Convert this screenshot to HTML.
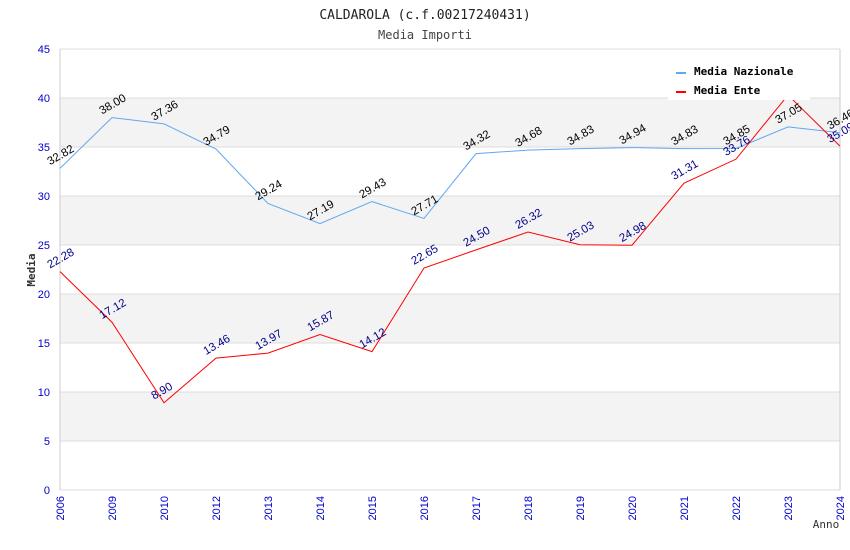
<!DOCTYPE html>
<html><head><meta charset="utf-8"><style>
body{margin:0;background:#fff;}
svg{display:block;font-family:"Liberation Sans",sans-serif;}
.mono{font-family:"DejaVu Sans Mono","Liberation Mono",monospace;}
</style></head><body>
<svg id="chart" width="850" height="550">
<text class="mono" x="425" y="19" text-anchor="middle" font-size="13" fill="#222">CALDAROLA (c.f.00217240431)</text>
<text class="mono" x="425" y="39" text-anchor="middle" font-size="12" fill="#444">Media Importi</text>
<g id="bands"></g><g id="grid"></g><g id="axes"></g><g id="series"></g><g id="labels"></g>
<g>
<rect x="668" y="58" width="142" height="42" fill="#fff"/>
<rect x="676" y="72" width="10" height="2" fill="#60a8f0"/>
<text class="mono" x="694" y="75" font-size="11" font-weight="bold" fill="#000">Media Nazionale</text>
<rect x="676" y="91" width="10" height="2" fill="#f00"/>
<text class="mono" x="694" y="94" font-size="11" font-weight="bold" fill="#000">Media Ente</text>
</g>
<text class="mono" x="35" y="270" font-size="11" font-weight="bold" fill="#333" text-anchor="middle" transform="rotate(-90 35 270)">Media</text>
<text class="mono" x="826" y="528" font-size="11" fill="#333" text-anchor="middle">Anno</text>
</svg>
<script>
const years=["2006","2009","2010","2012","2013","2014","2015","2016","2017","2018","2019","2020","2021","2022","2023","2024"];
const nazionale=[32.82,38.00,37.36,34.79,29.24,27.19,29.43,27.71,34.32,34.68,34.83,34.94,34.83,34.85,37.05,36.46];
const ente=[22.28,17.12,8.90,13.46,13.97,15.87,14.12,22.65,24.50,26.32,25.03,24.98,31.31,33.76,40.3,35.09];
const yTicks=[0,5,10,15,20,25,30,35,40,45];
const NS="http://www.w3.org/2000/svg";
const X0=60,X1=840,Y0=490,Y1=49,YMAX=45;
function xs(i){return X0+i*(X1-X0)/(years.length-1);}
function ys(v){return Y0-v*(Y0-Y1)/YMAX;}
function mk(tag,attrs,parent){const e=document.createElementNS(NS,tag);for(const k in attrs)e.setAttribute(k,attrs[k]);document.getElementById(parent).appendChild(e);return e;}
for(let i=0;i<yTicks.length-1;i++){
 if(i%2===1){const r=mk('rect',{x:X0,y:ys(yTicks[i+1]),width:X1-X0,height:ys(yTicks[i])-ys(yTicks[i+1]),fill:'#f3f3f3'},'bands');
 
 }
}
yTicks.forEach(t=>{
 const l=mk('line',{x1:X0,x2:X1,y1:ys(t),y2:ys(t),stroke:'#ddd'},'grid');
 
 
 const tx=mk('text',{x:X0-10,y:ys(t)+4,'text-anchor':'end','font-size':11,fill:'#00c'},'axes');
 tx.textContent=t;
 
 
});
mk('line',{x1:X0,x2:X0,y1:Y1,y2:Y0,stroke:'#ccc'},'axes');
mk('line',{x1:X1,x2:X1,y1:Y1,y2:Y0,stroke:'#ccc'},'axes');
years.forEach((yr,i)=>{
 const x=xs(i);
 const tx=mk('text',{x:x+4,y:Y0+6,'text-anchor':'end','font-size':11,fill:'#00c',transform:`rotate(-90 ${x+4} ${Y0+6})`},'axes');
 tx.textContent=yr;
 
 
});
function series(vals,color,name,lblColor){
 const p=mk('polyline',{points:vals.map((v,i)=>xs(i)+','+ys(v)).join(' '),fill:'none',stroke:color,'stroke-width':1},'series');
 
 
 vals.forEach((v,i)=>{
  const x=xs(i)-10,y=ys(v)-3;
  const t=mk('text',{x:x,y:y,'font-size':11.5,fill:lblColor,transform:`rotate(-30 ${x} ${y})`},'labels');
  t.textContent=v.toFixed(2);
  
  
 });
}
series(nazionale,'#60a8f0','line-nazionale','#000');
series(ente,'#f00','line-ente','#00008b');
</script>
</body></html>
